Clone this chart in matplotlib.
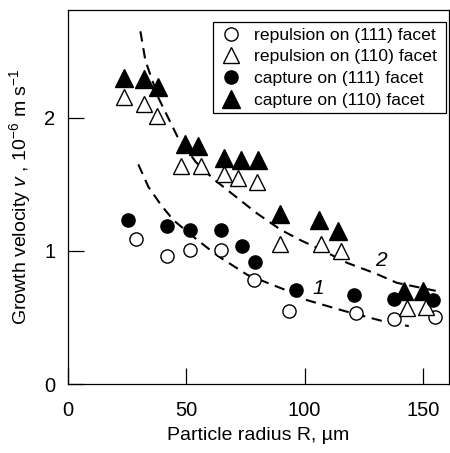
import matplotlib
matplotlib.use("Agg")
import matplotlib.pyplot as plt
from matplotlib.path import Path

plt.rcParams['font.family'] = ['Liberation Sans', 'DejaVu Sans']
plt.rcParams['mathtext.fontset'] = 'custom'
plt.rcParams['mathtext.rm'] = 'Liberation Sans'
plt.rcParams['mathtext.it'] = 'Liberation Sans:italic'

# repulsion on (111) facet - open circles
r_rep111 = [28.9, 42.0, 51.7, 64.8, 78.8, 93.2, 121.5, 137.6, 154.9]
v_rep111 = [1.09, 0.96, 1.01, 1.01, 0.78, 0.55, 0.53, 0.49, 0.50]

# repulsion on (110) facet - open triangles
r_rep110 = [23.8, 32.3, 37.8, 47.9, 56.0, 66.1, 72.0, 79.7, 89.4, 106.7, 115.2, 143.1, 151.2]
v_rep110 = [2.16, 2.10, 2.01, 1.64, 1.64, 1.58, 1.55, 1.52, 1.05, 1.05, 1.00, 0.57, 0.58]

# capture on (111) facet - filled circles
r_cap111 = [25.5, 42.0, 51.7, 64.8, 73.7, 79.2, 96.2, 120.7, 137.6, 154.1]
v_cap111 = [1.23, 1.19, 1.16, 1.16, 1.04, 0.92, 0.71, 0.67, 0.64, 0.63]

# capture on (110) facet - filled triangles
r_cap110 = [23.8, 32.3, 38.2, 49.6, 55.1, 66.1, 72.9, 80.1, 89.4, 105.9, 114.3, 141.8, 149.9]
v_cap110 = [2.30, 2.29, 2.23, 1.80, 1.79, 1.70, 1.68, 1.68, 1.28, 1.23, 1.15, 0.70, 0.70]

# dashed curves
r_curve1 = [29.7, 34.0, 39.5, 44.6, 54.8, 63.5, 75.8, 92.8, 101.0, 116.5, 133.5, 144.0]
v_curve1 = [1.65, 1.48, 1.34, 1.23, 1.08, 0.96, 0.82, 0.70, 0.63, 0.55, 0.47, 0.435]
r_curve2 = [30.6, 32.7, 38.2, 46.2, 53.9, 61.5, 70.0, 80.0, 89.8, 98.3, 108.0, 118.0, 130.0, 139.0, 155.4]
v_curve2 = [2.65, 2.43, 2.15, 1.86, 1.67, 1.54, 1.42, 1.28, 1.16, 1.08, 1.00, 0.91, 0.83, 0.76, 0.70]


def legend_frame(x0, y0, width, height, mutation_size):
    # rectangle with more padding left/right than top/bottom
    px = 0.3 * mutation_size
    py = 0.05 * mutation_size
    x0, x1 = x0 - px, x0 + width + px
    y0, y1 = y0 - py, y0 + height + py
    return Path([(x0, y0), (x1, y0), (x1, y1), (x0, y1), (x0, y0)],
                [Path.MOVETO, Path.LINETO, Path.LINETO, Path.LINETO, Path.CLOSEPOLY])


fig = plt.figure(figsize=(4.5, 4.53), dpi=100)
ax = fig.add_axes([68/450, 69/453, 381/450, 374/453])

ax.plot(r_curve1, v_curve1, 'k-', lw=1.5, dashes=(5, 3.2))
ax.plot(r_curve2, v_curve2, 'k-', lw=1.5, dashes=(5, 3.2))

ax.plot(r_rep111, v_rep111, 'o', ls='none', mfc='white', mec='black', mew=1.0, ms=9.5,
        label='repulsion on (111) facet')
ax.plot(r_rep110, v_rep110, '^', ls='none', mfc='white', mec='black', mew=1.0, ms=12,
        label='repulsion on (110) facet')
ax.plot(r_cap111, v_cap111, 'o', ls='none', mfc='black', mec='black', ms=9.5,
        label='capture on (111) facet')
ax.plot(r_cap110, v_cap110, '^', ls='none', mfc='black', mec='black', ms=12.5,
        label='capture on (110) facet')

ax.text(105.9, 0.72, '1', fontsize=15, style='italic', ha='center', va='center')
ax.text(132.1, 0.93, '2', fontsize=15, style='italic', ha='center', va='center')

ax.set_xlim(0, 161)
ax.set_ylim(0, 2.81)
ax.set_xticks([0, 50, 100, 150])
ax.set_yticks([0, 1, 2])
ax.tick_params(direction='in', length=11.5, width=0.9, labelsize=14.5)
ax.tick_params(axis='x', pad=12)
ax.tick_params(axis='y', pad=9)
for s in ax.spines.values():
    s.set_linewidth(0.9)

ax.set_xlabel('Particle radius R, µm', fontsize=14, labelpad=5)
ax.set_ylabel(r'Growth velocity $\it{v}$ , 10$^{-6}$ m s$^{-1}$', fontsize=14, labelpad=8)

leg = ax.legend(loc='upper right', bbox_to_anchor=(1 - 8/381, 1 - 13/374), borderaxespad=0,
                numpoints=1, fontsize=12.6, frameon=True, fancybox=False,
                edgecolor='black', framealpha=1, handlelength=1.0, handletextpad=0.8,
                borderpad=0.25, labelspacing=0.37)
leg.get_frame().set_boxstyle(legend_frame)
leg.get_frame().set_linewidth(0.9)

fig.savefig('out.png', dpi=100)
